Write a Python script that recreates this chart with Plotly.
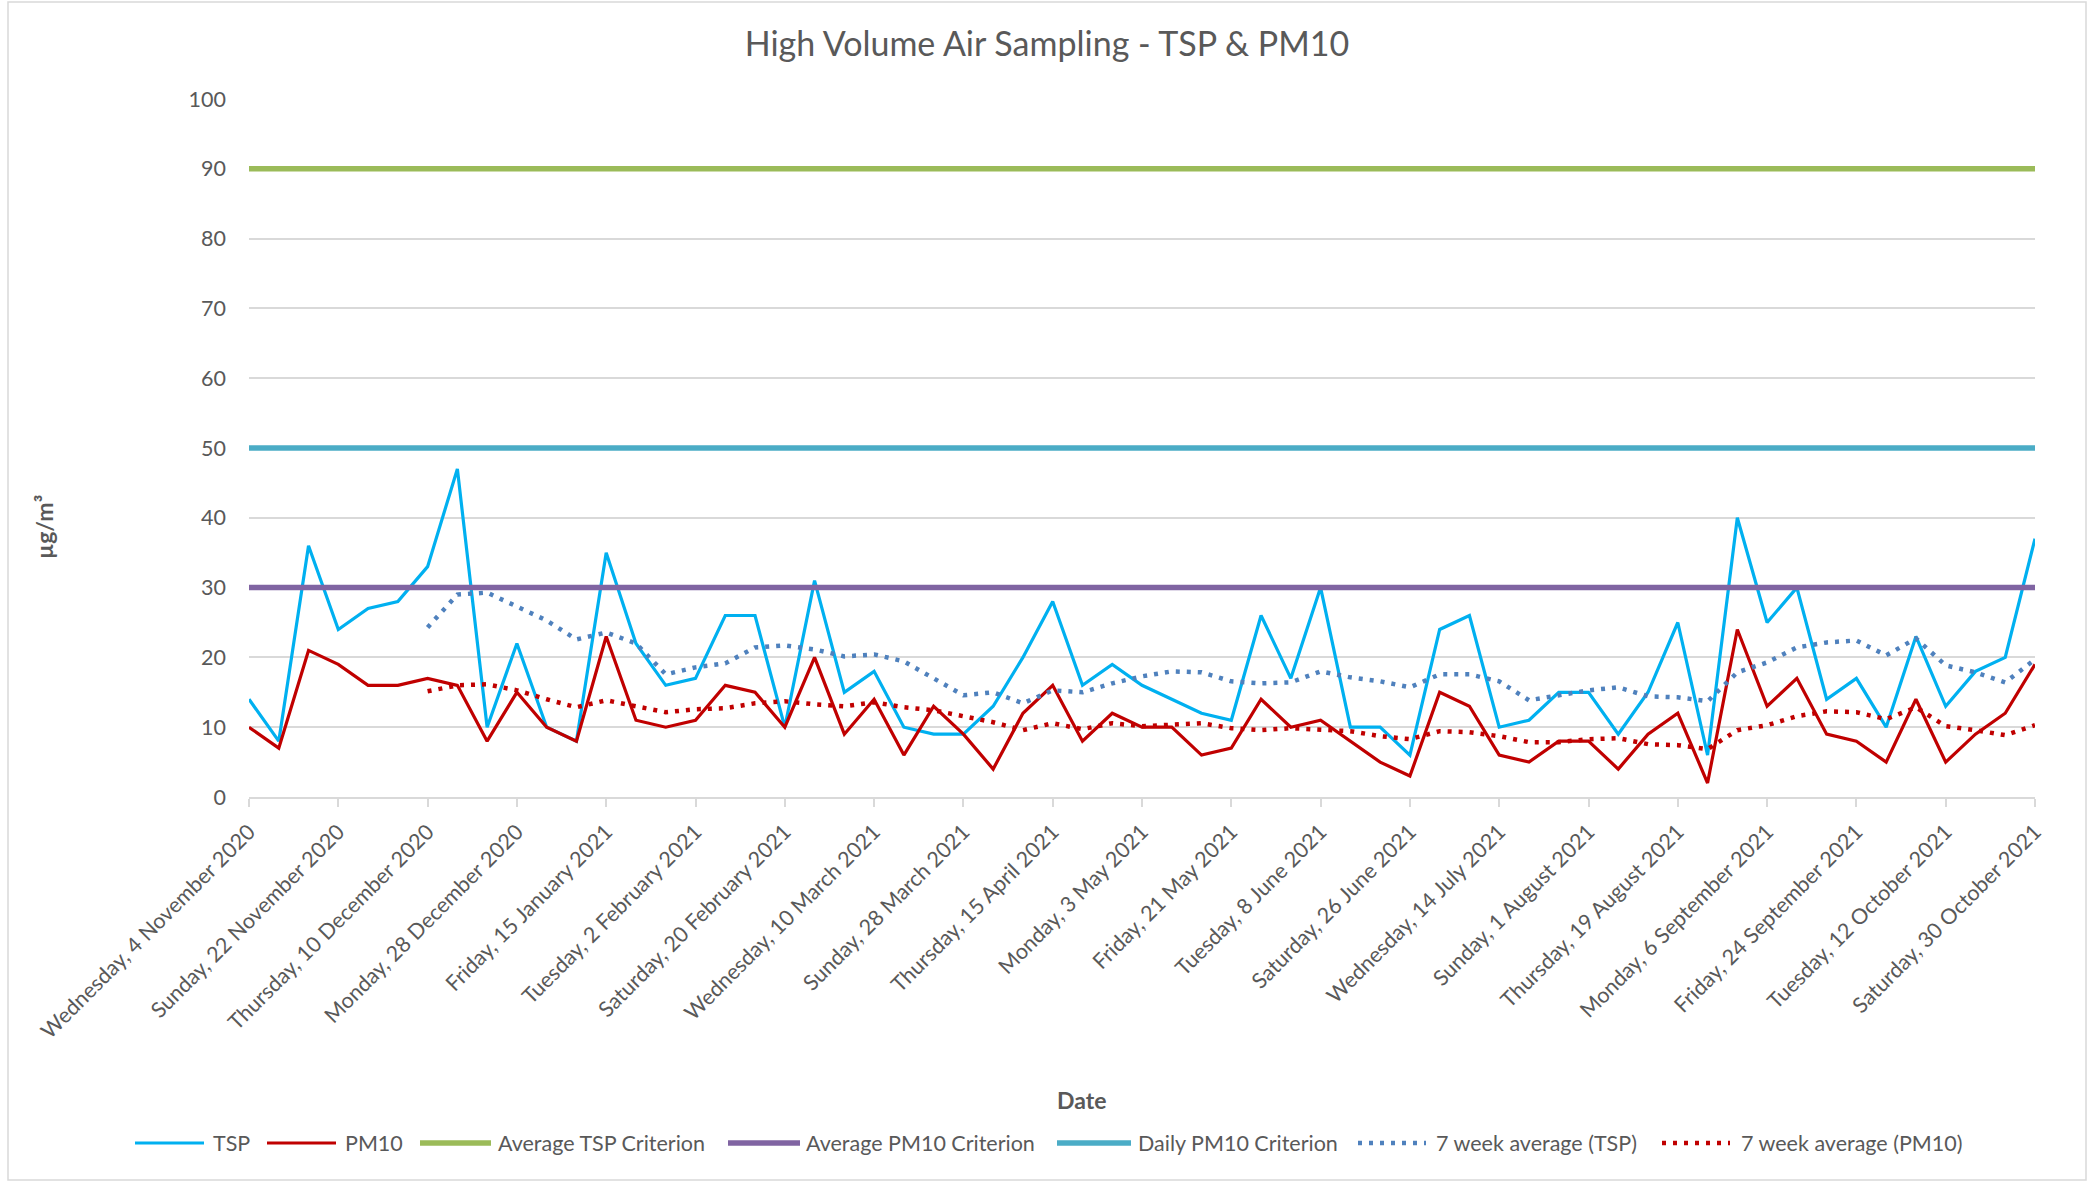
import pandas as pd
import plotly.graph_objects as go

# ---- data ----
start_date = "2020-11-04"
n_samples = 61  # one sample every 6 days
dates = pd.date_range(start_date, periods=n_samples, freq="6D")

tsp = [14, 8, 36, 24, 27, 28, 33, 47, 10, 22,
       10, 8, 35, 22, 16, 17, 26, 26, 10, 31,
       15, 18, 10, 9, 9, 13, 20, 28, 16, 19,
       16, 14, 12, 11, 26, 17, 30, 10, 10, 6,
       24, 26, 10, 11, 15, 15, 9, 15, 25, 6,
       40, 25, 30, 14, 17, 10, 23, 13, 18, 20,
       37]
pm10 = [10, 7, 21, 19, 16, 16, 17, 16, 8, 15,
        10, 8, 23, 11, 10, 11, 16, 15, 10, 20,
        9, 14, 6, 13, 9, 4, 12, 16, 8, 12,
        10, 10, 6, 7, 14, 10, 11, 8, 5, 3,
        15, 13, 6, 5, 8, 8, 4, 9, 12, 2,
        24, 13, 17, 9, 8, 5, 14, 5, 9, 12,
        19]

avg_tsp_criterion = 90
avg_pm10_criterion = 30
daily_pm10_criterion = 50
ma_window = 7  # Excel moving-average trendline period

tick_dates = dates[::3]
y_ticks = list(range(0, 101, 10))

# ---- derived: moving-average trendlines (as Excel computes them) ----
tsp_ma = pd.Series(tsp).rolling(ma_window).mean()
pm10_ma = pd.Series(pm10).rolling(ma_window).mean()

FONT = "Lato, 'Open Sans', sans-serif"
TXT = "#595959"
GRID = "#D9D9D9"
DOT = "4px,7px"

series_styles = [
    ("TSP", tsp, dict(color="#00B0F0", width=3.2)),
    ("PM10", pm10, dict(color="#C00000", width=3.2)),
    ("Average TSP Criterion", [avg_tsp_criterion] * n_samples,
     dict(color="#9BBB59", width=5.5)),
    ("Average PM10 Criterion", [avg_pm10_criterion] * n_samples,
     dict(color="#8064A2", width=5.5)),
    ("Daily PM10 Criterion", [daily_pm10_criterion] * n_samples,
     dict(color="#4BACC6", width=5.5)),
    ("7 week average (TSP)", tsp_ma, dict(color="#4F81BD", width=4.5, dash=DOT)),
    ("7 week average (PM10)", pm10_ma, dict(color="#C00000", width=4.5, dash=DOT)),
]

fig = go.Figure()
for name, yv, ln in series_styles:
    fig.add_trace(go.Scatter(x=dates, y=yv, name=name, mode="lines",
                             line=ln, showlegend=False))

W, H = 2091, 1181
L, R, T, B = 249, 56, 99, 384
pw, ph = W - L - R, H - T - B


def px_to_paper(px, py):
    return (px - L) / pw, (H - B - py) / ph


bx0, by0 = px_to_paper(8, 1180)
bx1, by1 = px_to_paper(2086, 2)

date_x, date_y = px_to_paper(1081, 1100)
ytit_x, ytit_y = px_to_paper(44, 527)

shapes = [dict(type="rect", xref="paper", yref="paper",
               x0=bx0, y0=by0, x1=bx1, y1=by1,
               line=dict(color=GRID, width=1.5), layer="below")]
annotations = [
    dict(text="<b>Date</b>", xref="paper", yref="paper",
         x=date_x, y=date_y, xanchor="center", yanchor="middle",
         showarrow=False, font=dict(family=FONT, size=23, color=TXT)),
    dict(text="<b>µg/m³</b>", xref="paper", yref="paper",
         x=ytit_x, y=ytit_y, xanchor="center", yanchor="middle",
         textangle=-90, showarrow=False,
         font=dict(family=FONT, size=23, color=TXT)),
]

# legend drawn as a row of keys (pixel layout of the reference)
legend_y = 1143
legend_pos = [(135, 204, 211), (267, 336, 343), (420, 491, 496),
              (728, 800, 804), (1057, 1131, 1136), (1358, 1426, 1434),
              (1662, 1730, 1739)]
for (name, _, ln), (sx0, sx1, tx) in zip(series_styles, legend_pos):
    x0, y0 = px_to_paper(sx0, legend_y)
    x1, _ = px_to_paper(sx1, legend_y)
    shapes.append(dict(type="line", xref="paper", yref="paper",
                       x0=x0, x1=x1, y0=y0, y1=y0,
                       line=dict(color=ln["color"], width=ln["width"],
                                 dash=ln.get("dash", "solid"))))
    tx_p, _ = px_to_paper(tx, legend_y)
    annotations.append(dict(text=name, xref="paper", yref="paper",
                            x=tx_p, y=y0, xanchor="left", yanchor="middle",
                            showarrow=False,
                            font=dict(family=FONT, size=21.5, color=TXT)))

fig.update_layout(
    width=W, height=H,
    margin=dict(l=L, r=R, t=T, b=B, autoexpand=False),
    paper_bgcolor="white", plot_bgcolor="white",
    font=dict(family=FONT, color=TXT, size=21),
    title=dict(text="High Volume Air Sampling - TSP & PM10",
               x=1047 / W, xref="container", xanchor="center",
               y=1 - 44 / H, yref="container", yanchor="middle",
               font=dict(family=FONT, size=34, color=TXT)),
    showlegend=False,
    xaxis=dict(type="date", range=[dates[0], dates[-1]],
               tickvals=tick_dates, tickformat="%A, %-d %B %Y",
               tickangle=-45, ticks="outside", ticklen=8, tickcolor=GRID,
               tickwidth=1.5, showline=True, linecolor=GRID, linewidth=1.5,
               showgrid=False, zeroline=False, automargin=False,
               ticklabelstandoff=4,
               tickfont=dict(family=FONT, size=21.5, color=TXT)),
    yaxis=dict(range=[0, 100], tickvals=y_ticks, showgrid=True,
               gridcolor=GRID, gridwidth=1.5, zeroline=False,
               showline=False, ticks="", automargin=False,
               ticklabelstandoff=22,
               tickfont=dict(family=FONT, size=21.5, color=TXT)),
    annotations=annotations,
    shapes=shapes,
)

fig.write_html("out.html", config={"displayModeBar": False},
               post_script="document.body.style.margin='0px';")
